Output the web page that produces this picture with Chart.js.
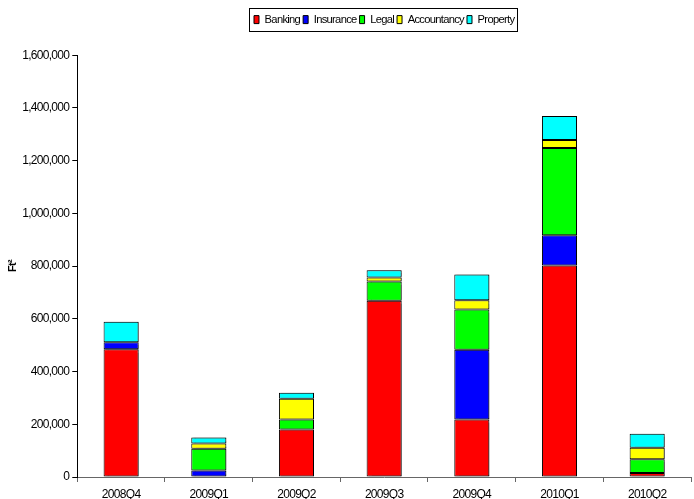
<!DOCTYPE html>
<html>
<head>
<meta charset="utf-8">
<script src="https://cdn.jsdelivr.net/npm/chart.js@4/dist/chart.umd.min.js"></script>
<style>
  html, body { margin: 0; padding: 0; background: #fff; }
  #wrap { width: 694px; height: 499px; }
</style>
</head>
<body>
<div id="wrap"><canvas id="c" width="694" height="499"></canvas></div>
<script>
// Quarterly take-up by sector (square feet)
const quarters = ['2008Q4', '2009Q1', '2009Q2', '2009Q3', '2009Q4', '2010Q1', '2010Q2'];
const banking     = [485000, null, 180000, 669000, 218000, 802000, 15000];
const insurance   = [26000, 25000, null, null, 265000, 115000, null];
const legal       = [null, 82000, 38000, 73000, 152000, 331000, 52000];
const accountancy = [null, 20000, 79000, 15000, 35000, 30000, 44000];
const property    = [78000, 23000, 23000, 27000, 98000, 91000, 53000];
const yTicks = [0, 200000, 400000, 600000, 800000, 1000000, 1200000, 1400000, 1600000];

const FONT = "'Liberation Sans', Arial, sans-serif";
const TIGHT = '-0.7px';

function series(label, data, color) {
  return {
    label, data,
    backgroundColor: color,
    borderColor: '#000',
    borderWidth: 1,
    borderSkipped: false,
    barPercentage: 0.4,
    categoryPercentage: 1.0
  };
}

// Condensed lettering for all chart text
const tightText = {
  id: 'tightText',
  beforeLayout(chart) { chart.ctx.letterSpacing = TIGHT; },
  beforeDraw(chart) { chart.ctx.letterSpacing = TIGHT; }
};

// Frame around the legend entries
const legendFrame = {
  id: 'legendFrame',
  afterDraw(chart) {
    const lg = chart.legend;
    if (!lg || !lg.legendHitBoxes || !lg.legendHitBoxes.length) return;
    const boxes = lg.legendHitBoxes;
    let x0 = Infinity, x1 = -Infinity, y0 = Infinity, y1 = -Infinity;
    boxes.forEach(b => {
      x0 = Math.min(x0, b.left); x1 = Math.max(x1, b.left + b.width);
      y0 = Math.min(y0, b.top);  y1 = Math.max(y1, b.top + b.height);
    });
    const ctx = chart.ctx;
    ctx.save();
    ctx.strokeStyle = '#000';
    ctx.lineWidth = 1;
    ctx.strokeRect(Math.round(x0 - 5) + 0.5, Math.round(y0 - 6) + 0.5,
                   Math.round(x1 - x0 + 8), Math.round(y1 - y0 + 12));
    ctx.restore();
  }
};

// Soft grey drop shadow behind the bars
const barShadow = {
  id: 'barShadow',
  beforeDatasetsDraw(chart) {
    const ctx = chart.ctx;
    ctx.save();
    ctx.shadowColor = 'rgba(0,0,0,0.35)';
    ctx.shadowOffsetX = 2;
    ctx.shadowOffsetY = 0;
    ctx.shadowBlur = 1;
  },
  afterDatasetsDraw(chart) {
    chart.ctx.restore();
  }
};

new Chart(document.getElementById('c'), {
  type: 'bar',
  data: {
    labels: quarters,
    datasets: [
      series('Banking', banking, '#ff0000'),
      series('Insurance', insurance, '#0000ff'),
      series('Legal', legal, '#00ff00'),
      series('Accountancy', accountancy, '#ffff00'),
      series('Property', property, '#00ffff')
    ]
  },
  options: {
    responsive: false,
    animation: false,
    devicePixelRatio: 1,
    layout: { padding: { top: 11, right: 3, left: 6, bottom: 0 } },
    plugins: {
      legend: {
        position: 'top',
        fullSize: false,
        weight: 2000,
        labels: {
          boxWidth: 5,
          boxHeight: 8,
          padding: 3,
          color: '#000',
          font: { family: FONT, size: 11.2 },
          useBorderRadius: false
        }
      },
      // blank spacer between the legend and the plot
      subtitle: {
        display: true,
        fullSize: false,
        text: ' ',
        position: 'top',
        font: { size: 10 },
        padding: { top: 4, bottom: 4 }
      },
      tooltip: { enabled: false }
    },
    scales: {
      x: {
        stacked: true,
        offset: true,
        afterFit(axis) { axis.height = 22; },
        border: { display: true, color: '#666', width: 1 },
        grid: { display: true, offset: true, drawOnChartArea: false, drawTicks: true, tickLength: 5, color: '#666' },
        ticks: { color: '#000', font: { family: FONT, size: 12 }, padding: 5, maxRotation: 0 }
      },
      y: {
        stacked: true,
        min: 0,
        max: 1600000,
        afterBuildTicks(axis) { axis.ticks = yTicks.map(v => ({ value: v })); },
        border: { display: true, color: '#000', width: 1 },
        grid: { display: true, drawOnChartArea: false, drawTicks: true, tickLength: 5, color: '#000' },
        ticks: {
          color: '#000',
          font: { family: FONT, size: 12 },
          padding: 3,
          callback: v => Number(v).toLocaleString('en-US')
        },
        title: {
          display: true,
          text: 'Ft²',
          color: '#000',
          font: { family: FONT, size: 11, weight: 'bold' },
          padding: { top: 0, bottom: 0 }
        }
      }
    }
  },
  plugins: [tightText, barShadow, legendFrame]
});
</script>
</body>
</html>
